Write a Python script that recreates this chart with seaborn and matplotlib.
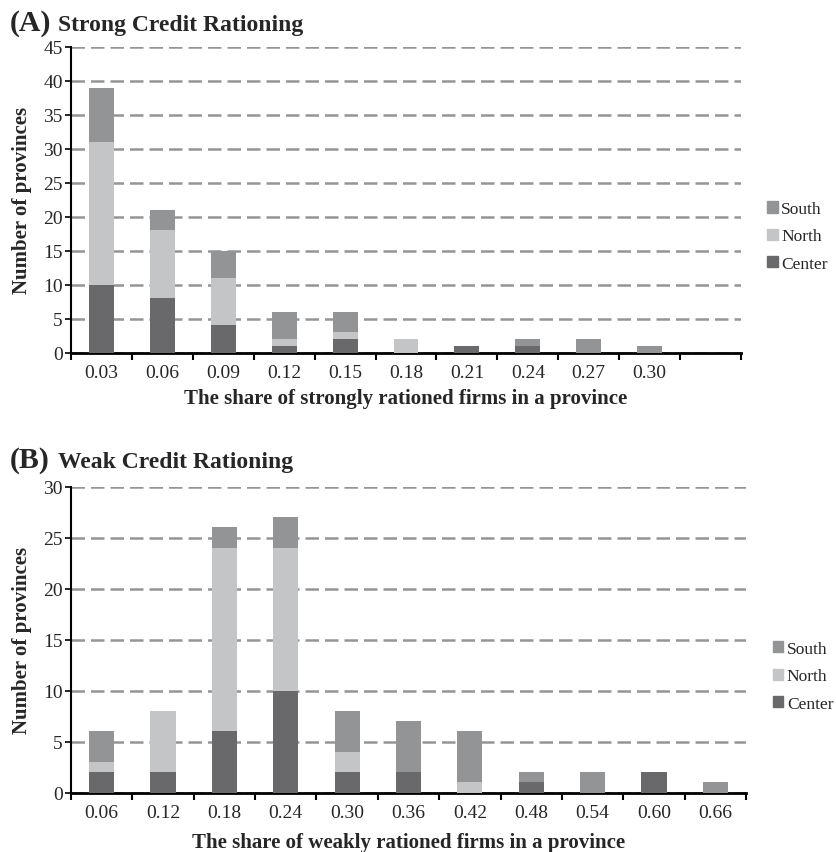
import numpy as np
import pandas as pd
import matplotlib
matplotlib.use("Agg")
import matplotlib.pyplot as plt
import seaborn as sns
from matplotlib.patches import Patch

sns.set_style("white")
plt.rcParams["font.family"] = ["Liberation Serif", "DejaVu Serif"]

# Panel A: strong credit rationing
strong_bins = ["0.03", "0.06", "0.09", "0.12", "0.15", "0.18", "0.21", "0.24", "0.27", "0.30"]
strong_center = [10, 8, 4, 1, 2, 0, 1, 1, 0, 0]
strong_north = [21, 10, 7, 1, 1, 2, 0, 0, 0, 0]
strong_south = [8, 3, 4, 4, 3, 0, 0, 1, 2, 1]

# Panel B: weak credit rationing
weak_bins = ["0.06", "0.12", "0.18", "0.24", "0.30", "0.36", "0.42", "0.48", "0.54", "0.60", "0.66"]
weak_center = [2, 2, 6, 10, 2, 2, 0, 1, 0, 2, 0]
weak_north = [1, 6, 18, 14, 2, 0, 1, 0, 0, 0, 0]
weak_south = [3, 0, 2, 3, 4, 5, 5, 1, 2, 0, 1]

C_CENTER = "#69696b"
C_NORTH = "#c4c5c7"
C_SOUTH = "#939496"

W, H = 837, 853
fig = plt.figure(figsize=(W / 100, H / 100), dpi=100)


def px_axes(left, right, top, bottom):
    return fig.add_axes([left / W, (H - bottom) / H, (right - left) / W, (bottom - top) / H])


def panel(ax, bins, center, north, south, ymax, xlabel, n_slots, leg_x, leg_y, xpad):
    df = pd.DataFrame({"share": bins, "Center": center, "North": north, "South": south})
    df["center_north"] = df["Center"] + df["North"]
    df["total"] = df["center_north"] + df["South"]
    # stacked bars drawn as overlapping cumulative layers
    for col, color in [("total", C_SOUTH), ("center_north", C_NORTH), ("Center", C_CENTER)]:
        sns.barplot(data=df, x="share", y=col, order=bins, color=color, saturation=1,
                    width=0.41, linewidth=0, ax=ax, zorder=3)

    ax.set_xlim(-0.5, n_slots - 0.5)
    ax.set_ylim(0, ymax)
    ax.set_xticks(range(len(bins)))
    ax.set_xticklabels(bins)
    ax.set_xticks(np.arange(-0.5, n_slots), minor=True)
    ax.tick_params(axis="x", which="major", length=0, pad=8, labelsize=14)
    ax.tick_params(axis="x", which="minor", length=5, width=1.5, direction="out",
                   color="black", bottom=True)
    ax.set_yticks(range(0, ymax + 1, 5))
    ax.tick_params(axis="y", length=4, width=1.2, direction="out", color="black",
                   left=True, pad=2, labelsize=14)

    ax.set_axisbelow(True)
    ax.yaxis.grid(True, color="#959595", linestyle=(0, (5.4, 2.4)), linewidth=1.8)
    ax.xaxis.grid(False)
    for s in ["top", "right"]:
        ax.spines[s].set_visible(False)
    ax.spines["left"].set_color("black")
    ax.spines["left"].set_linewidth(1.5)
    ax.spines["bottom"].set_color("black")
    ax.spines["bottom"].set_linewidth(2)

    ax.set_xlabel(xlabel, fontsize=15, fontweight="bold", labelpad=xpad)
    ax.set_ylabel("Number of provinces", fontsize=15, fontweight="bold", labelpad=8)

    handles = [Patch(color=C_SOUTH, label="South"),
               Patch(color=C_NORTH, label="North"),
               Patch(color=C_CENTER, label="Center")]
    ax.legend(handles=handles, loc="center left", bbox_to_anchor=(leg_x, leg_y),
              frameon=False, handlelength=0.6, handleheight=0.6, handletextpad=0.2,
              labelspacing=0.65, fontsize=12.5, borderpad=0, borderaxespad=0)


ax_a = px_axes(71, 741, 48, 353.5)
panel(ax_a, strong_bins, strong_center, strong_north, strong_south, 45,
      "The share of strongly rationed firms in a province", 11, 1.039, 0.38, 5)

ax_b = px_axes(71, 746, 487.5, 793.5)
panel(ax_b, weak_bins, weak_center, weak_north, weak_south, 30,
      "The share of weakly rationed firms in a province", 11, 1.04, 0.38, 8)

# panel headings
fig.text(10 / W, 1 - 31 / H, "(A)", fontsize=21.5, fontweight="bold", va="baseline")
fig.text(58 / W, 1 - 31 / H, "Strong Credit Rationing", fontsize=17, fontweight="bold", va="baseline")
fig.text(10 / W, 1 - 468 / H, "(B)", fontsize=21.5, fontweight="bold", va="baseline")
fig.text(58 / W, 1 - 468 / H, "Weak Credit Rationing", fontsize=17, fontweight="bold", va="baseline")

fig.savefig("out.png", dpi=100)
